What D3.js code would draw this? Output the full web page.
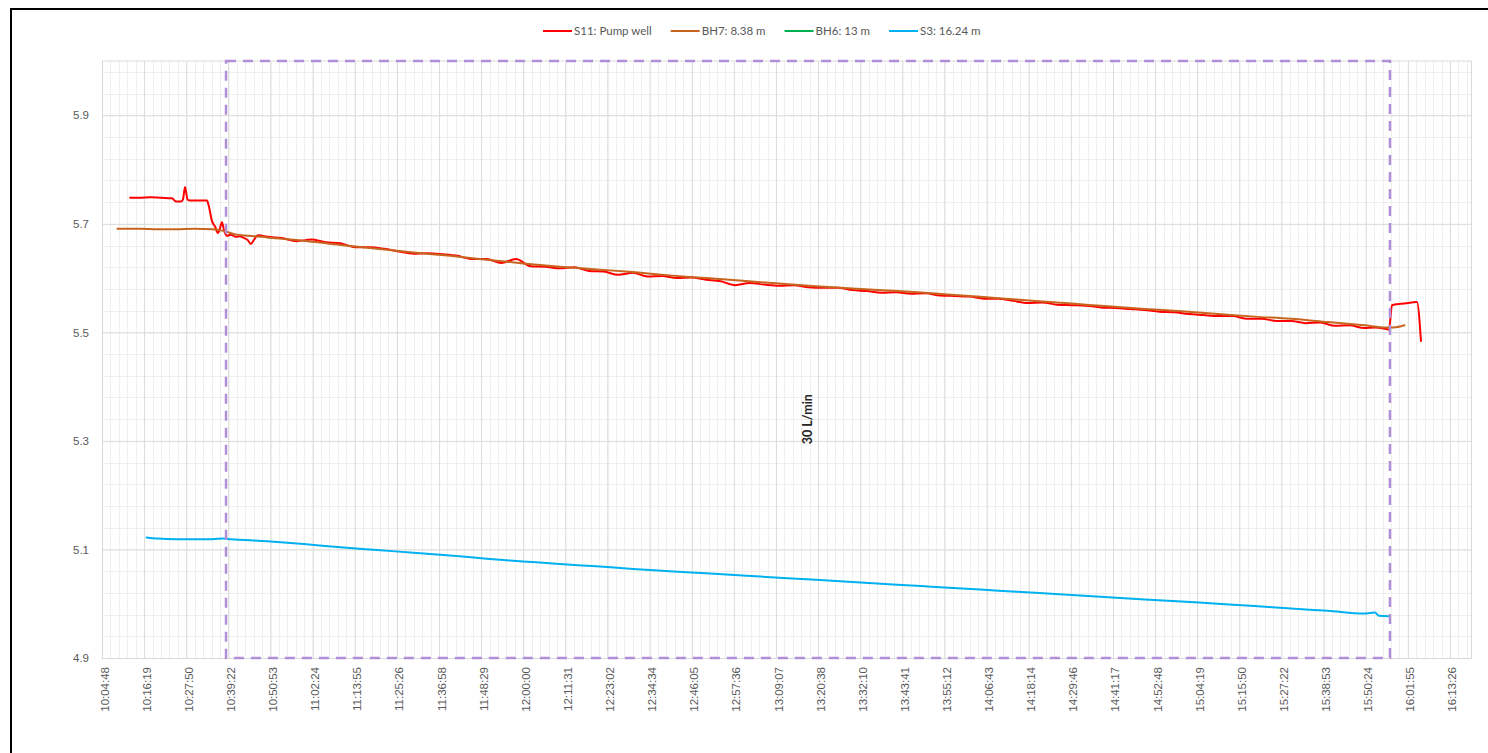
<!DOCTYPE html>
<html><head><meta charset="utf-8">
<script src="https://cdn.jsdelivr.net/npm/d3@7"></script>
<style>
html,body{margin:0;padding:0;background:#fff;}
svg{display:block;font-family:Lato,"Open Sans",sans-serif;}
</style></head>
<body><svg id="chart" width="1488" height="753"></svg>
<script>
// ---- data ----
const seriesNames = ["S11: Pump well", "BH7: 8.38 m", "BH6: 13 m", "S3: 16.24 m"];
const seriesColors = ["#ff0000", "#c8641e", "#00b050", "#00b0f0"];

const xTickLabels = ["10:04:48","10:16:19","10:27:50","10:39:22","10:50:53","11:02:24","11:13:55","11:25:26","11:36:58","11:48:29","12:00:00","12:11:31","12:23:02","12:34:34","12:46:05","12:57:36","13:09:07","13:20:38","13:32:10","13:43:41","13:55:12","14:06:43","14:18:14","14:29:46","14:41:17","14:52:48","15:04:19","15:15:50","15:27:22","15:38:53","15:50:24","16:01:55","16:13:26"];
const yTickLabels = ["4.9","5.1","5.3","5.5","5.7","5.9"];

const pumpStart = "10:38:43";
const pumpEnd = "15:57:02";
const pumpLabel = "30 L/min";
const pumpLabelValue = 5.34;

const s11Times = ["10:12:30","10:15","10:18","10:21","10:23:57","10:25:02","10:26:24","10:26:57","10:27:30","10:28:11","10:28:52","10:33:31","10:33:56","10:34:53","10:35:42","10:36:31","10:37:04","10:37:37","10:38:10","10:38:59","10:40:04","10:41:26","10:42:30","10:43:34","10:44:40","10:45:29","10:46:18","10:47:24","10:48:29","10:50","10:54","10:58","11:02","11:06","11:10","11:14","11:18","11:22","11:26","11:30","11:34","11:38","11:42","11:46","11:50","11:54","11:58","12:02","12:06","12:10","12:14","12:18","12:22","12:26","12:30","12:34","12:38","12:42","12:46","12:50","12:54","12:58","13:02","13:06","13:10","13:14","13:18","13:22","13:26","13:30","13:34","13:38","13:42","13:46","13:50","13:54","13:58","14:02","14:06","14:10","14:14","14:18","14:22","14:26","14:30","14:34","14:38","14:42","14:46","14:50","14:54","14:58","15:02","15:06","15:10","15:14","15:18","15:22","15:26","15:30","15:34","15:38","15:42","15:46","15:50","15:53","15:56","15:56:46","15:57:35","15:59","16:01","16:03","16:04:25","16:05:31"];
const s11Values = [5.748,5.748,5.749,5.748,5.747,5.741,5.741,5.745,5.768,5.745,5.743,5.743,5.735,5.705,5.695,5.683,5.692,5.703,5.688,5.678,5.680,5.676,5.677,5.674,5.670,5.663,5.670,5.679,5.678,5.676,5.674,5.668,5.671,5.666,5.664,5.657,5.657,5.654,5.649,5.645,5.646,5.644,5.641,5.635,5.635,5.628,5.635,5.622,5.621,5.618,5.620,5.613,5.612,5.606,5.610,5.603,5.604,5.600,5.601,5.597,5.594,5.587,5.591,5.588,5.586,5.587,5.583,5.582,5.582,5.578,5.576,5.573,5.574,5.571,5.572,5.568,5.567,5.566,5.562,5.562,5.558,5.554,5.555,5.551,5.550,5.549,5.546,5.545,5.543,5.541,5.538,5.537,5.534,5.532,5.530,5.530,5.525,5.525,5.521,5.521,5.517,5.518,5.512,5.513,5.508,5.509,5.506,5.505,5.550,5.552,5.553,5.555,5.556,5.484];

const bh7Times = ["10:09","10:15","10:20","10:25","10:30","10:35","10:38","10:41","10:45","10:50","11:00","11:10","11:20","11:30","11:40","11:50","12:00","12:10","12:20","12:30","12:40","12:50","13:00","13:10","13:20","13:30","13:40","13:50","14:00","14:10","14:20","14:30","14:40","14:50","15:00","15:10","15:20","15:30","15:40","15:50","15:56","15:58","16:01"];
const bh7Values = [5.691,5.691,5.690,5.690,5.691,5.690,5.687,5.681,5.678,5.675,5.669,5.661,5.654,5.647,5.641,5.634,5.627,5.621,5.616,5.611,5.605,5.600,5.595,5.590,5.585,5.581,5.577,5.573,5.568,5.563,5.558,5.553,5.548,5.543,5.539,5.534,5.529,5.525,5.519,5.513,5.509,5.509,5.513];

const bh6Times = [];
const bh6Values = [];

const s3Times = ["10:17","10:20","10:25","10:30","10:35","10:38","10:40","10:50","11:00","11:10","11:20","11:30","11:40","11:50","12:00","12:10","12:20","12:30","12:40","12:50","13:00","13:10","13:20","13:30","13:40","13:50","14:00","14:10","14:20","14:30","14:40","14:50","15:00","15:10","15:20","15:30","15:40","15:50","15:52:56","15:54","15:57"];
const s3Values = [5.122,5.120,5.119,5.119,5.119,5.120,5.119,5.115,5.110,5.104,5.099,5.094,5.089,5.083,5.078,5.073,5.069,5.064,5.060,5.056,5.052,5.048,5.044,5.040,5.036,5.032,5.028,5.024,5.020,5.016,5.012,5.008,5.004,5.000,4.996,4.991,4.987,4.982,4.984,4.978,4.977];

// ---- helpers ----
const toSec = s => { const p = s.split(":").map(Number); return p[0]*3600 + p[1]*60 + (p[2]||0); };
const zip = (t, v) => t.map((d, i) => ({t: toSec(d), v: v[i]}));
const series = [zip(s11Times, s11Values), zip(bh7Times, bh7Values), zip(bh6Times, bh6Values), zip(s3Times, s3Values)];

// ---- layout ----
const svg = d3.select("#chart");
const pL = 102, pR = 1471, pT = 61, pB = 658;
const t0 = toSec(xTickLabels[0]);
const majorStep = 691.2; // 0.008 day
const x = d3.scaleLinear().domain([t0, t0 + 32.5*majorStep]).range([pL, pR]);
const y = d3.scaleLinear().domain([4.9, 6.0]).range([pB, pT]);

// border
svg.append("rect").attr("x", 11).attr("y", 9).attr("width", 1500).attr("height", 800)
  .attr("fill", "none").attr("stroke", "#000").attr("stroke-width", 2);

// minor grid
const g = svg.append("g");
const minorX = d3.range(0, 163).map(k => t0 + k*majorStep/5).filter(t => x(t) <= pR + 0.5);
g.selectAll(".mx").data(minorX).join("line")
  .attr("x1", d => Math.round(x(d)) + 0.5).attr("x2", d => Math.round(x(d)) + 0.5)
  .attr("y1", pT).attr("y2", pB).attr("stroke", "#efefef").attr("stroke-width", 1);
const minorY = d3.range(0, 28).map(k => 4.9 + k*0.04).filter(v => v <= 6.0001);
g.selectAll(".my").data(minorY).join("line")
  .attr("x1", pL).attr("x2", pR)
  .attr("y1", d => Math.round(y(d)) + 0.5).attr("y2", d => Math.round(y(d)) + 0.5)
  .attr("stroke", "#efefef").attr("stroke-width", 1);

// major grid via axes
const xTicks = xTickLabels.map((s, i) => t0 + i*majorStep);
const xAxis = d3.axisBottom(x).tickValues(xTicks).tickSize(-(pB - pT))
  .tickFormat((d, i) => xTickLabels[i]);
const gx = svg.append("g").attr("transform", `translate(0,${pB})`).call(xAxis);
gx.select(".domain").attr("stroke", "#d9d9d9");
gx.selectAll(".tick line").attr("stroke", "#dcdcdc");
gx.selectAll(".tick text").attr("fill", "#595959").style("font-size", "11.5px")
  .attr("transform", "rotate(-90)").attr("text-anchor", "end")
  .attr("x", -9).attr("y", 2).attr("dy", "0.35em");

const yTicks = yTickLabels.map(Number);
const yAxis = d3.axisLeft(y).tickValues(yTicks).tickSize(-(pR - pL)).tickFormat((d, i) => yTickLabels[i]);
const gy = svg.append("g").attr("transform", `translate(${pL},0)`).call(yAxis);
gy.select(".domain").remove();
gy.selectAll(".tick line").attr("stroke", "#dcdcdc");
gy.selectAll(".tick text").attr("fill", "#595959").style("font-size", "11.5px").attr("x", -13);
svg.append("line").attr("x1", pL).attr("x2", pR).attr("y1", y(6.0)).attr("y2", y(6.0)).attr("stroke", "#dcdcdc");
svg.append("line").attr("x1", pL + 0.5).attr("x2", pL + 0.5).attr("y1", pT).attr("y2", pB).attr("stroke", "#d9d9d9");
svg.append("line").attr("x1", pL).attr("x2", pR).attr("y1", pB + 0.5).attr("y2", pB + 0.5).attr("stroke", "#d9d9d9");

// lines
const line = d3.line().x(d => x(d.t)).y(d => y(d.v)).curve(d3.curveMonotoneX);
series.forEach((s, i) => {
  if (!s.length) return;
  svg.append("path").datum(s).attr("d", line).attr("fill", "none")
    .attr("stroke", seriesColors[i]).attr("stroke-width", 2)
    .attr("stroke-linejoin", "round").attr("stroke-linecap", "round");
});

// pumping rectangle
const ps = toSec(pumpStart), pe = toSec(pumpEnd);
svg.append("rect").attr("x", x(ps)).attr("y", y(6.0)).attr("width", x(pe) - x(ps)).attr("height", y(4.9) - y(6.0))
  .attr("fill", "none").attr("stroke", "#b08fd8").attr("stroke-width", 2.5).attr("stroke-dasharray", "10,7");
svg.append("text").attr("transform", `translate(${x((ps + pe)/2) + 4},${y(pumpLabelValue)}) rotate(-90)`)
  .attr("text-anchor", "middle").attr("fill", "#262626").style("font-size", "12.5px").style("font-weight", "bold")
  .text(pumpLabel);

// legend
const leg = svg.append("g");
let lx = 543;
seriesNames.forEach((n, i) => {
  leg.append("line").attr("x1", lx).attr("x2", lx + 29).attr("y1", 31).attr("y2", 31)
    .attr("stroke", seriesColors[i]).attr("stroke-width", 2);
  const t = leg.append("text").attr("x", lx + 31).attr("y", 31).attr("dy", "0.35em")
    .attr("fill", "#595959").style("font-size", "11.5px").text(n);
  lx = lx + 31 + t.node().getComputedTextLength() + 19;
});
</script></body></html>
